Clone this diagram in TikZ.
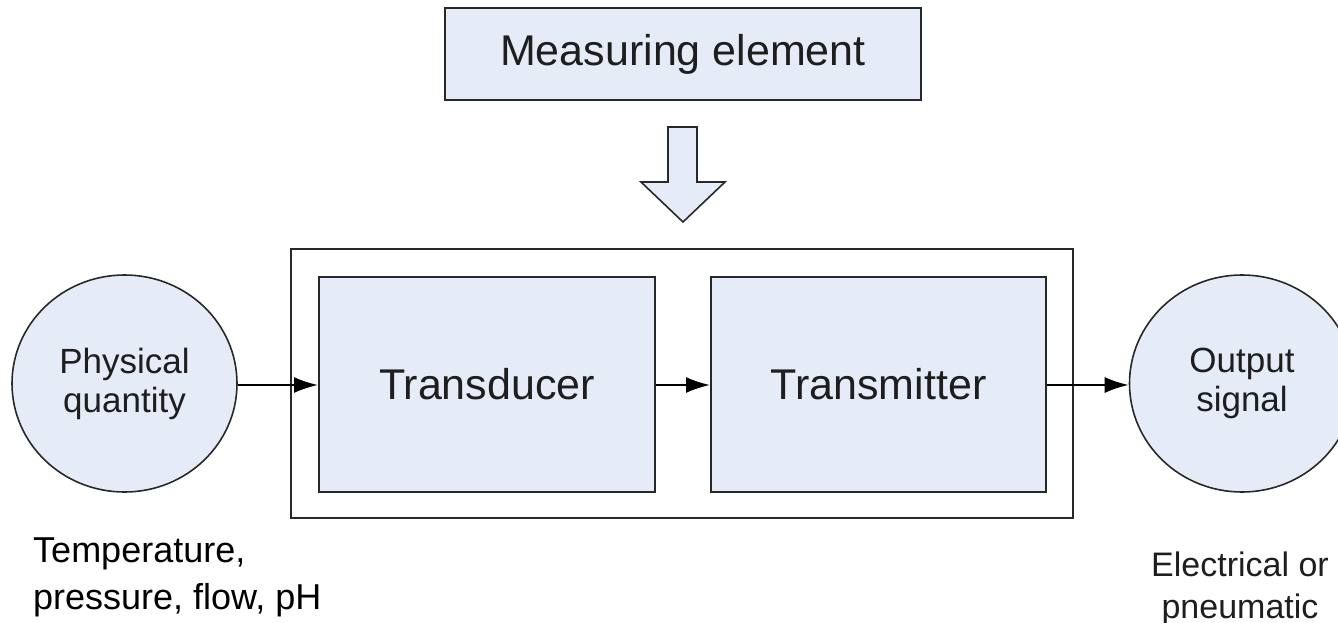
\documentclass[tikz,border=0pt]{standalone}
\usepackage{fontspec}
\setmainfont{Liberation Sans}
\usetikzlibrary{shapes.geometric,arrows.meta}

\definecolor{boxfill}{RGB}{230,236,247}
\definecolor{boxline}{RGB}{40,40,40}
\definecolor{labeltext}{RGB}{30,30,30}

\tikzset{
  blockbox/.style={draw=boxline, line width=2, fill=boxfill, rectangle,
    inner sep=0, text=labeltext, font=\fontsize{43}{48}\selectfont},
  framebox/.style={draw=boxline, line width=2, rectangle, inner sep=0},
  endpoint/.style={draw=boxline, line width=1.6, fill=boxfill, ellipse,
    inner sep=0, align=center, text=labeltext,
    font=\fontsize{35}{39}\selectfont},
  flow/.style={draw=black, line width=2,
    -{Latex[length=24,width=16]}},
  note/.style={inner sep=0, text=black},
}

\begin{document}
\begin{tikzpicture}[x=1pt, y=-1pt]
  \clip (0,0) rectangle (1338,623);

  % measuring element and the block arrow below it
  \node[blockbox, minimum width=476, minimum height=92] (meas) at (683,54)
    {Measuring element};
  \coordinate (tip) at (683,222);
  \filldraw[fill=boxfill, draw=boxline, line width=1.6]
    (668,127) -- (697,127) -- (697,182) -- (725,182) -- (tip)
    -- (641,182) -- (668,182) -- cycle;

  % enclosing frame with the two stages
  \node[framebox, minimum width=782, minimum height=269] (frame) at (682,383.5) {};
  \node[blockbox, minimum width=336, minimum height=215] (trans) at (487,384.5)
    {Transducer};
  \node[blockbox, minimum width=335, minimum height=215] (xmit) at (878.5,384.5)
    {Transmitter};

  % input and output
  \node[endpoint, minimum width=225, minimum height=217] (input) at (124.5,383.5)
    {Physical\\quantity};
  \node[endpoint, minimum width=225, minimum height=217] (output) at (1242,383.5)
    {Output\\signal};

  % signal flow
  \draw[flow] (input.east |- 0,385) -- (trans.west |- 0,385);
  \draw[flow] (trans.east |- 0,385) -- (xmit.west |- 0,385);
  \draw[flow] (xmit.east |- 0,385) -- (output.west |- 0,385);

  % notes under the end points
  \node[note, anchor=north west, align=left,
    font=\fontsize{36}{47}\selectfont] (innote) at (33,538)
    {Temperature,\\pressure, flow, pH};
  \node[note, anchor=north, align=center, text=labeltext,
    font=\fontsize{34}{42}\selectfont] (outnote) at (1240,552)
    {Electrical or\\pneumatic};
\end{tikzpicture}
\end{document}
